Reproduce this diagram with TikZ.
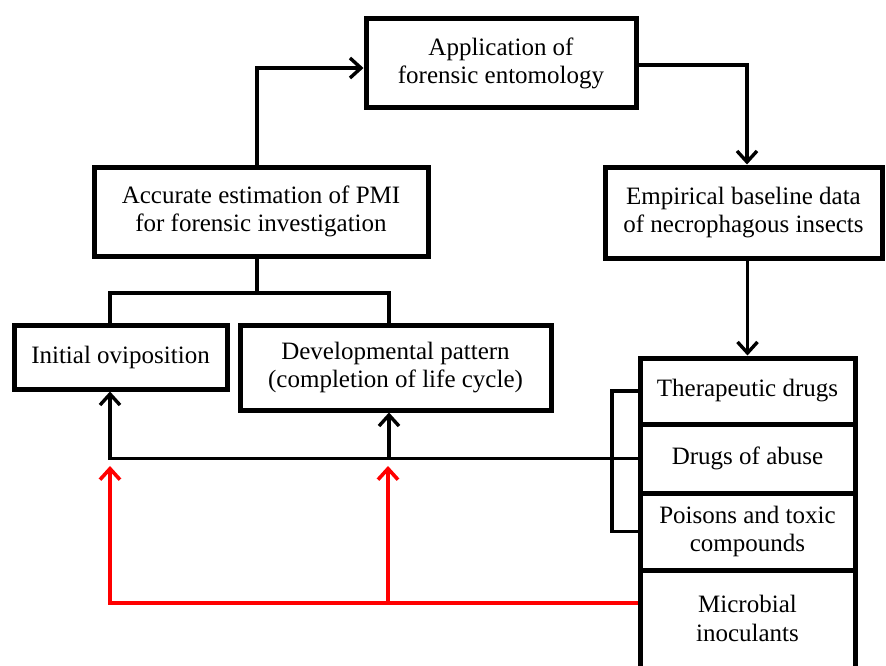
\documentclass[tikz,border=0pt]{standalone}
\usepackage{fontspec}
\setmainfont{Liberation Serif}
\usetikzlibrary{arrows.meta}
\begin{document}
\begin{tikzpicture}[x=1pt,y=-1pt,
  box/.style={draw,line width=5pt,inner sep=0pt,align=center,
    font=\fontsize{25}{28.5}\selectfont},
  lbl/.style={inner sep=0pt,align=center,font=\fontsize{25}{29}\selectfont},
  conn/.style={line width=3.4pt},
  arr/.style={conn,-{Straight Barb[length=11pt,width=20pt,line width=3.4pt]}},
  redarr/.style={line width=3.6pt,red,-{Straight Barb[length=11pt,width=20pt,line width=3.6pt]}},
  redline/.style={line width=3.6pt,red}]
\useasboundingbox (0,0) rectangle (886,666);
\clip (0,0) rectangle (886,666);
% boxes
\node[box,minimum width=270,minimum height=89] (app) at (501,63.5) {Application of\\forensic entomology};
\node[box,minimum width=334,minimum height=89] (acc) at (261,211.5) {Accurate estimation of PMI\\for forensic investigation};
\node[box,minimum width=277,minimum height=91] (emp) at (743.5,212.5) {Empirical baseline data\\of necrophagous insects};
\node[box,minimum width=213,minimum height=64] (ini) at (120.5,357) {Initial oviposition};
\node[box,minimum width=311,minimum height=85] (dev) at (395.5,367.5) {Developmental pattern\\(completion of life cycle)};
\node[box,minimum width=215,minimum height=66] (ther) at (747.5,391) {Therapeutic drugs};
\node[box,minimum width=215,minimum height=69] (drug) at (747.5,458.5) {Drugs of abuse};
\node[box,minimum width=215,minimum height=77] (pois) at (747.5,531.5) {Poisons and toxic\\compounds};
\node[box,minimum width=215,minimum height=130] (micro) at (747.5,635) {};
\node[lbl] (microtxt) at (747.5,618) {Microbial\\inoculants};
% junction coordinates
\coordinate (k1) at (257,68);
\coordinate (k2) at (747,65);
\coordinate (k4) at (257,293);
\coordinate (bl) at (110,293);
\coordinate (br) at (389,293);
\coordinate (cl) at (110,459);
\coordinate (cr) at (389,459);
\coordinate (bx) at (612,0);
\coordinate (rl) at (110,603);
\coordinate (rr) at (388,603);
\coordinate (rtl) at (110,466);
\coordinate (rtr) at (388,466);
% connectors
\draw[arr] (acc.north -| k1) -- (k1) -- (k1 -| app.west);
\draw[arr] (app.east |- k2) -- (k2) -- (k2 |- emp.north);
\draw[arr] (ther.north |- emp.south) -- (ther.north);
\draw[conn] (acc.south -| k4) -- (k4);
\draw[conn] (bl |- ini.north) -- (bl) -- (br) -- (br |- dev.north);
\draw[arr] (drug.west) -- (drug.west -| cl) -- (cl |- ini.south);
\draw[arr] (cr) -- (cr |- dev.south);
\draw[conn] (ther.west) -- (ther.west -| bx) -- (pois.west -| bx) -- (pois.west);
\draw[redarr] (micro.west |- rl) -- (rl) -- (rtl);
\draw[redarr] (rr) -- (rtr);
\end{tikzpicture}
\end{document}
